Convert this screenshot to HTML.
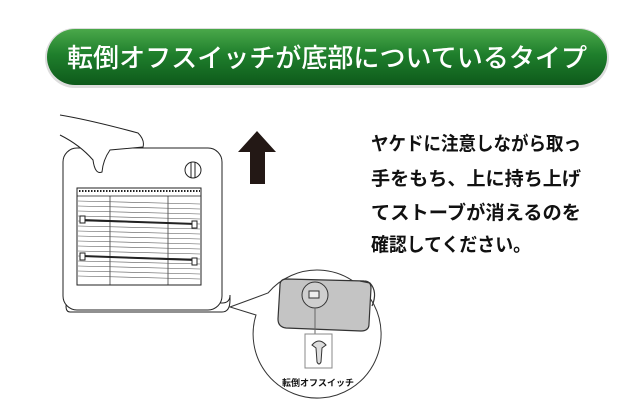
<!DOCTYPE html>
<html><head><meta charset="utf-8"><style>
html,body{margin:0;padding:0;background:#fff;width:640px;height:420px;overflow:hidden}
svg{display:block}
.j{font-family:"Liberation Sans","Noto Sans CJK JP",sans-serif}
</style></head><body>
<svg width="640" height="420" viewBox="0 0 640 420" xmlns="http://www.w3.org/2000/svg">
<defs>
<linearGradient id="g" x1="0" y1="0" x2="0" y2="1">
<stop offset="0" stop-color="#4aa84a"/><stop offset="0.45" stop-color="#1f7f2c"/><stop offset="1" stop-color="#0e5a1b"/>
</linearGradient>
</defs>
<rect x="45" y="28" width="564" height="60" rx="30" fill="#ddd"/>
<rect x="47" y="29" width="560" height="56" rx="28" fill="url(#g)"/>
<text x="327" y="67" text-anchor="middle" class="j" font-size="26" font-weight="500" fill="#fff" textLength="520" lengthAdjust="spacingAndGlyphs">転倒オフスイッチが底部についているタイプ</text>

<!-- arrow -->
<polygon points="238,152 257,131 276,152 265,152 265,184 250,184 250,152" fill="#231815"/>

<!-- heater -->
<g fill="none" stroke="#222" stroke-width="1">
<path d="M68,300 L222,303 Q230,303 230,295 L230,300 Q230,312 222,312 L70,312 Q66,312 66,306 Z" fill="#fff"/>
<rect x="63" y="148" width="159" height="162" rx="14" fill="#fff"/>
<rect x="77" y="188" width="124" height="97" fill="#fff"/>
<g stroke-width="0.7">
<line x1="77" y1="196" x2="201" y2="196"/>
<line x1="110" y1="196" x2="110" y2="285"/>
<line x1="168" y1="196" x2="168" y2="285"/>
</g>
<g stroke="#555" stroke-width="0.6">
<line x1="78" y1="201" x2="200" y2="204"/><line x1="78" y1="206" x2="200" y2="209"/>
<line x1="78" y1="211" x2="200" y2="214"/><line x1="78" y1="216" x2="200" y2="219"/>
<line x1="78" y1="221" x2="200" y2="224"/><line x1="78" y1="226" x2="200" y2="229"/>
<line x1="78" y1="231" x2="200" y2="234"/><line x1="78" y1="236" x2="200" y2="239"/>
<line x1="78" y1="241" x2="200" y2="244"/><line x1="78" y1="246" x2="200" y2="249"/>
<line x1="78" y1="251" x2="200" y2="254"/><line x1="78" y1="256" x2="200" y2="259"/>
<line x1="78" y1="261" x2="200" y2="264"/><line x1="78" y1="266" x2="200" y2="269"/>
<line x1="78" y1="271" x2="200" y2="274"/><line x1="78" y1="276" x2="200" y2="279"/>
</g>
<line x1="82" y1="220" x2="196" y2="224" stroke-width="2"/>
<line x1="82" y1="256" x2="196" y2="260" stroke-width="2"/>
<rect x="80" y="216" width="5" height="7" fill="#fff"/><rect x="192" y="221" width="5" height="7" fill="#fff"/>
<rect x="80" y="253" width="5" height="7" fill="#fff"/><rect x="192" y="258" width="5" height="7" fill="#fff"/>
<circle cx="193" cy="170" r="8" fill="#fff"/>
<line x1="191" y1="162" x2="191" y2="178"/><line x1="195" y1="162" x2="195" y2="178"/>
<path d="M60,115 Q90,120 138,133 Q145,140 143,147 L110,150 Q103,160 102,172 Q95,175 93,160 Q80,145 60,135" fill="#fff"/>
</g>
<line x1="79" y1="191" x2="200" y2="191" stroke="#222" stroke-width="2" stroke-dasharray="1.5 1.5"/>

<!-- callout -->
<path d="M268,293 A64,64 0 1 1 256,315 L230,307 Z" fill="#fff" stroke="#333" stroke-width="1"/>
<g fill="none" stroke="#333" stroke-width="1">
<path d="M280,285 Q280,279 287,279 L364,281 Q371,281 371,288 L369,324 Q369,331 361,331 L286,328 Q278,327 278,319 Z" fill="#c4c4c4" stroke="#333" stroke-width="1.2"/>
<path d="M360,281 L370,283 Q378,292 372,306" stroke-width="1.2"/>
<circle cx="315" cy="295" r="13" fill="#cfcfcf"/>
<rect x="309" y="291" width="10" height="7" fill="#eee"/>
<line x1="315" y1="308" x2="315" y2="334" stroke="#666"/>
<rect x="305" y="334" width="27" height="34" fill="#fff" stroke="#888"/>
<path d="M312,345 Q319,337 326,345 L322,348 L321,362 Q319,366 317,362 L316,348 Z" fill="#ddd"/>
</g>
<text x="318" y="386" text-anchor="middle" class="j" font-size="9" font-weight="bold" fill="#111">転倒オフスイッチ</text>

<g class="j" font-size="19" font-weight="bold" fill="#111">
<text x="371" y="150" textLength="210" lengthAdjust="spacingAndGlyphs">ヤケドに注意しながら取っ</text>
<text x="371" y="185" textLength="210" lengthAdjust="spacingAndGlyphs">手をもち、上に持ち上げ</text>
<text x="371" y="219" textLength="210" lengthAdjust="spacingAndGlyphs">てストーブが消えるのを</text>
<text x="371" y="251" textLength="160" lengthAdjust="spacingAndGlyphs">確認してください。</text>
</g>
</svg>
</body></html>
